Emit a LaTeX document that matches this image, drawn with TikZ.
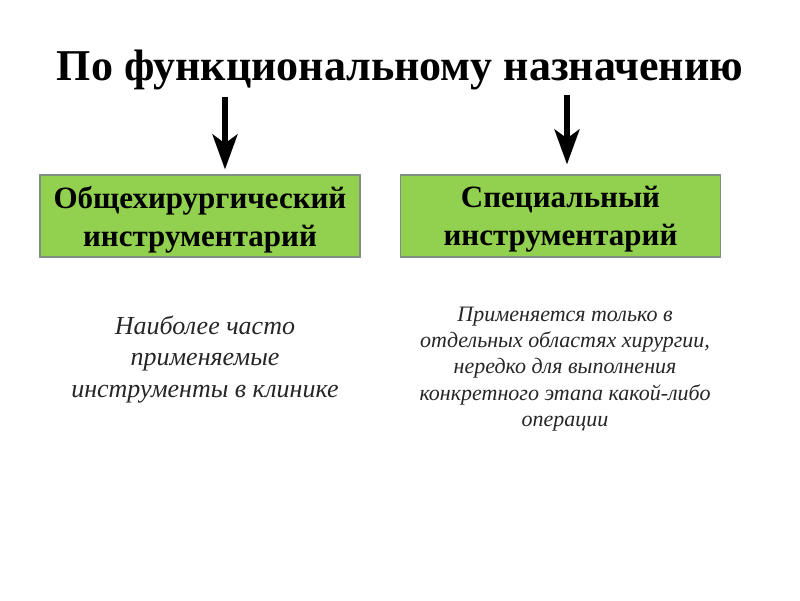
\documentclass[tikz,border=0pt]{standalone}
\usepackage{fontspec}
\setmainfont{Liberation Serif}
\usetikzlibrary{arrows.meta}
\definecolor{boxgreen}{HTML}{92D050}
\definecolor{boxedge}{HTML}{7F8F7F}
\begin{document}
\begin{tikzpicture}[x=1pt,y=-1pt,
  catbox/.style={draw=boxedge,line width=1.2pt,fill=boxgreen,minimum width=320pt,minimum height=82pt,inner sep=0pt},
  boxtext/.style={font=\fontsize{31}{38}\selectfont\bfseries,align=center,inner sep=0pt},
  desc/.style={font=\fontsize{26}{31.5}\selectfont\itshape,align=center,text=black!85},
  descsmall/.style={font=\fontsize{22}{26.2}\selectfont\itshape,align=center,text=black!85},
  downarrow/.style={line width=5.5pt,-{Stealth[length=35pt,width=25pt,inset=9pt]}}]
\useasboundingbox (0,0) rectangle (800,600);
\node[font=\fontsize{44}{50}\selectfont\bfseries] (title) at (400,70) {По функциональному назначению};
\node[catbox] (box1) at (200,216) {};
\node[catbox] (box2) at (560.5,216) {};
\node[boxtext] (box1t) at ([yshift=-3.5pt]box1.center) {Общехирургический\\инструментарий};
\node[boxtext] (box2t) at ([yshift=-3.5pt]box2.center) {Специальный\\инструментарий};
\coordinate (a1) at (225,97);
\coordinate (a2) at (567,95);
\draw[downarrow] (a1) -- ([yshift=5pt]a1 |- box1.north);
\draw[downarrow] (a2) -- ([yshift=10pt]a2 |- box2.north);
\node[desc] (d1) at (205,359) {Наиболее часто\\применяемые\\инструменты в клинике};
\node[descsmall] (d2) at (565,369) {Применяется только в\\отдельных областях хирургии,\\нередко для выполнения\\конкретного этапа какой-либо\\операции};
\end{tikzpicture}
\end{document}
